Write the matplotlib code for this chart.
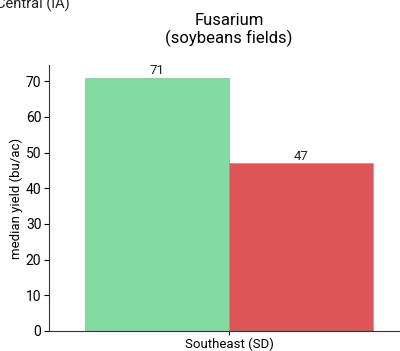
import matplotlib
matplotlib.use("Agg")
import matplotlib.pyplot as plt
import numpy as np

plt.rcParams['font.family'] = ['Roboto', 'DejaVu Sans']

# Median soybean yield in Fusarium fields, by region
regions = ["Central (IA)", "Southeast (SD)"]
yields = [71, 47]
colors = ["#82dba0", "#de5558"]
group_label = "Southeast (SD)"

fig = plt.figure(figsize=(4.0, 3.51), dpi=100)
ax = fig.add_axes([49 / 400, 20 / 351, 360 / 400, 266 / 351])

width = 0.4
n = len(yields)
offsets = (np.arange(n) - (n - 1) / 2) * width
for off, val, col, name in zip(offsets, yields, colors, regions):
    bars = ax.bar(off, val, width=width, color=col, edgecolor="#9a9a9a",
                  linewidth=0.4, label=name)
    ax.bar_label(bars, labels=[f"{val}"], padding=0.5, fontsize=9.5,
                 color="#222222")

ax.set_xlim(-0.5, 0.5)
ax.set_ylim(0, max(yields) * 1.05)
ax.set_xticks([0])
ax.set_xticklabels([group_label], fontsize=9.5)
ax.set_yticks(np.arange(0, 71, 10))
ax.tick_params(axis="y", labelsize=10, length=3.5, width=0.8, pad=2)
ax.tick_params(axis="x", length=3, width=0.8, pad=1.5)
ax.set_ylabel("median yield (bu/ac)", fontsize=9.5, labelpad=2)
ax.set_title("Fusarium\n(soybeans fields)", fontsize=12, pad=16,
             linespacing=1.1)

for side in ("top", "right"):
    ax.spines[side].set_visible(False)
for side in ("left", "bottom"):
    ax.spines[side].set_linewidth(0.8)
    ax.spines[side].set_color("#333333")

# legend entry for the first region, sitting at the top-left corner
fig.text(-4 / 400, 1 - 9 / 351, "Central (IA)", fontsize=10.5, ha="left",
         va="baseline", color="#222222")

fig.savefig("out.png", dpi=100)
